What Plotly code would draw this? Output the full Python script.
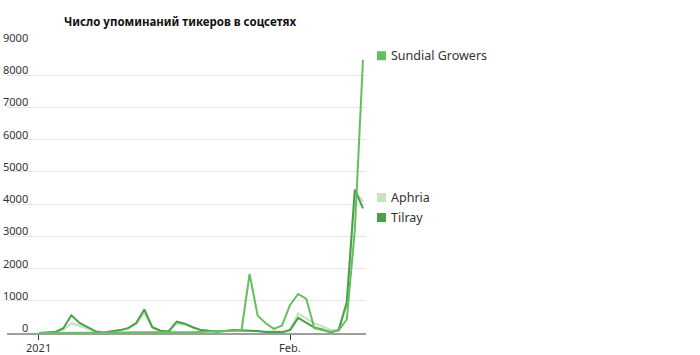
import plotly.graph_objects as go
import pandas as pd

dates = pd.date_range("2021-01-01", "2021-02-10", freq="D").strftime("%Y-%m-%d").tolist()

sundial = [0, 5, 10, 15, 20, 15, 10, 10, 15, 15, 20, 20, 20, 25, 20, 15, 15, 20, 20, 25,
           30, 30, 40, 60, 70, 80, 1830, 540, 300, 130, 230, 870, 1210, 1060, 150, 100, 30, 80,
           420, 3200, 8480]
aphria = [0, 10, 25, 100, 300, 220, 130, 40, 15, 40, 80, 140, 280, 620, 170, 60, 40, 290, 260, 170,
          90, 60, 40, 60, 90, 80, 70, 50, 40, 30, 50, 100, 600, 460, 300, 200, 90, 100,
          900, 4400, 4080]
tilray = [0, 10, 30, 150, 550, 310, 180, 50, 15, 50, 90, 150, 310, 730, 180, 70, 50, 350, 290, 180,
          90, 70, 40, 60, 90, 80, 80, 60, 30, 40, 20, 90, 470, 330, 170, 110, 20, 90,
          950, 4450, 3870]

series_names = ["Sundial Growers", "Aphria", "Tilray"]
y_ticks = [0, 1000, 2000, 3000, 4000, 5000, 6000, 7000, 8000, 9000]
x_tickvals = ["2021-01-01", "2021-02-01"]
x_ticktext = ["2021", "Feb."]
title_text = "Число упоминаний тикеров в соцсетях"

colors = {"Sundial Growers": "#63be5f", "Aphria": "#c6e3bf", "Tilray": "#4c9f4a"}
data = {"Sundial Growers": sundial, "Aphria": aphria, "Tilray": tilray}

FONT = "Noto Sans"
W, H = 700, 355
L, R, T, B = 7, 334, 43, 22
PW = W - L - R
PH = H - T - B

fig = go.Figure()
for name in ["Aphria", "Tilray", "Sundial Growers"]:
    fig.add_trace(go.Scatter(
        x=dates, y=data[name], mode="lines", name=name,
        line=dict(color=colors[name], width=2 if name != "Aphria" else 2.2),
        cliponaxis=False, showlegend=False, hoverinfo="skip"))

annotations = []
for v in y_ticks:
    annotations.append(dict(
        xref="paper", yref="y", x=(30 - L) / PW, y=v, xanchor="right", yanchor="bottom",
        text=f"{v}", showarrow=False, yshift=-4,
        font=dict(family=FONT, size=11, color="#333333")))

for tv, tt in zip(x_tickvals, x_ticktext):
    annotations.append(dict(
        xref="x", yref="paper", x=tv, y=-(347 - (T + PH)) / PH, xanchor="center", yanchor="middle",
        text=tt, showarrow=False,
        font=dict(family=FONT, size=11, color="#333333")))

annotations.append(dict(
    xref="paper", yref="paper", x=(62 - L) / PW, y=1 + (43 - 21) / PH, xanchor="left", yanchor="middle",
    text=f"<b>{title_text}</b>", showarrow=False,
    font=dict(family=FONT, size=11.5, color="#111111")))

px_per_unit = PH / 9000
last_positions = {}
order = sorted(series_names, key=lambda n: -data[n][-1])
prev_px = None
for n in order:
    ypx = T + PH - data[n][-1] * px_per_unit - 4
    if prev_px is not None and ypx - prev_px < 20:
        ypx = prev_px + 20
    last_positions[n] = ypx
    prev_px = ypx

shapes = []
for n in series_names:
    ypx = last_positions[n]
    yp = 1 - (ypx - T) / PH
    sq = 9
    shapes.append(dict(
        type="rect", xref="paper", yref="paper",
        x0=(377 - L) / PW, x1=(377 + sq - L) / PW,
        y0=yp - (sq / 2) / PH, y1=yp + (sq / 2) / PH,
        fillcolor=colors[n], line=dict(width=0)))
    annotations.append(dict(
        xref="paper", yref="paper", x=(389 - L) / PW, y=yp, xanchor="left", yanchor="middle",
        text=n, showarrow=False, font=dict(family=FONT, size=12.5, color="#333333")))

fig.update_layout(
    width=W, height=H,
    margin=dict(l=L, r=R, t=T, b=B, pad=0, autoexpand=False),
    paper_bgcolor="white", plot_bgcolor="white",
    showlegend=False,
    annotations=annotations, shapes=shapes,
    xaxis=dict(
        type="date", automargin=False,
        range=["2020-12-28 01:12", "2021-02-10 09:00"],
        tickvals=x_tickvals, showticklabels=False,
        ticks="outside", ticklen=5, tickcolor="#333333", tickwidth=1,
        showline=True, linecolor="#9e9e9e", linewidth=2,
        showgrid=False, zeroline=False,
    ),
    yaxis=dict(
        automargin=False,
        range=[0, 9000], tickvals=y_ticks, showticklabels=False,
        showgrid=True, gridcolor="#e3e3e3", gridwidth=1,
        zeroline=False, ticks="",
    ),
)

fig.write_html("out.html")
